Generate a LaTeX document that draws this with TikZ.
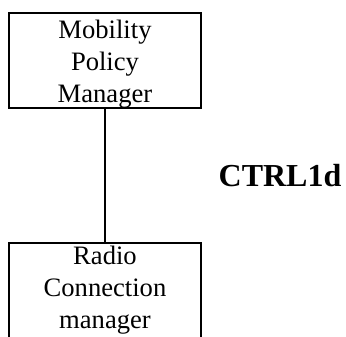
\documentclass[tikz,border=0pt]{standalone}
\usepackage{fontspec}
\setmainfont{Liberation Serif}
\usepackage{tikz}

\begin{document}
\begin{tikzpicture}[x=0.5pt,y=-0.5pt,
  entity/.style={draw,line width=1pt,rectangle,minimum width=96pt,minimum height=47.5pt,inner sep=0pt},
  entitytext/.style={align=center,inner sep=0pt,font=\fontsize{13.3}{16}\selectfont}]
\useasboundingbox (0,0) rectangle (346,336);
\clip (0,0) rectangle (346,336);

\node[entity] (mpm) at (105,60.5) {};
\node[entitytext] (mpmtext) at ([yshift=-2pt]mpm.center) {Mobility\\Policy\\Manager};

\node[entity] (rcm) at (105,290.5) {};
\node[entitytext] (rcmtext) at (rcm.center) {Radio\\Connection\\manager};

\draw[line width=0.6pt] (mpm.south) -- (rcm.north);

\node[font=\fontsize{16}{18}\bfseries\selectfont,inner sep=0pt] (ctrl) at (280,176) {CTRL1d};
\end{tikzpicture}
\end{document}
